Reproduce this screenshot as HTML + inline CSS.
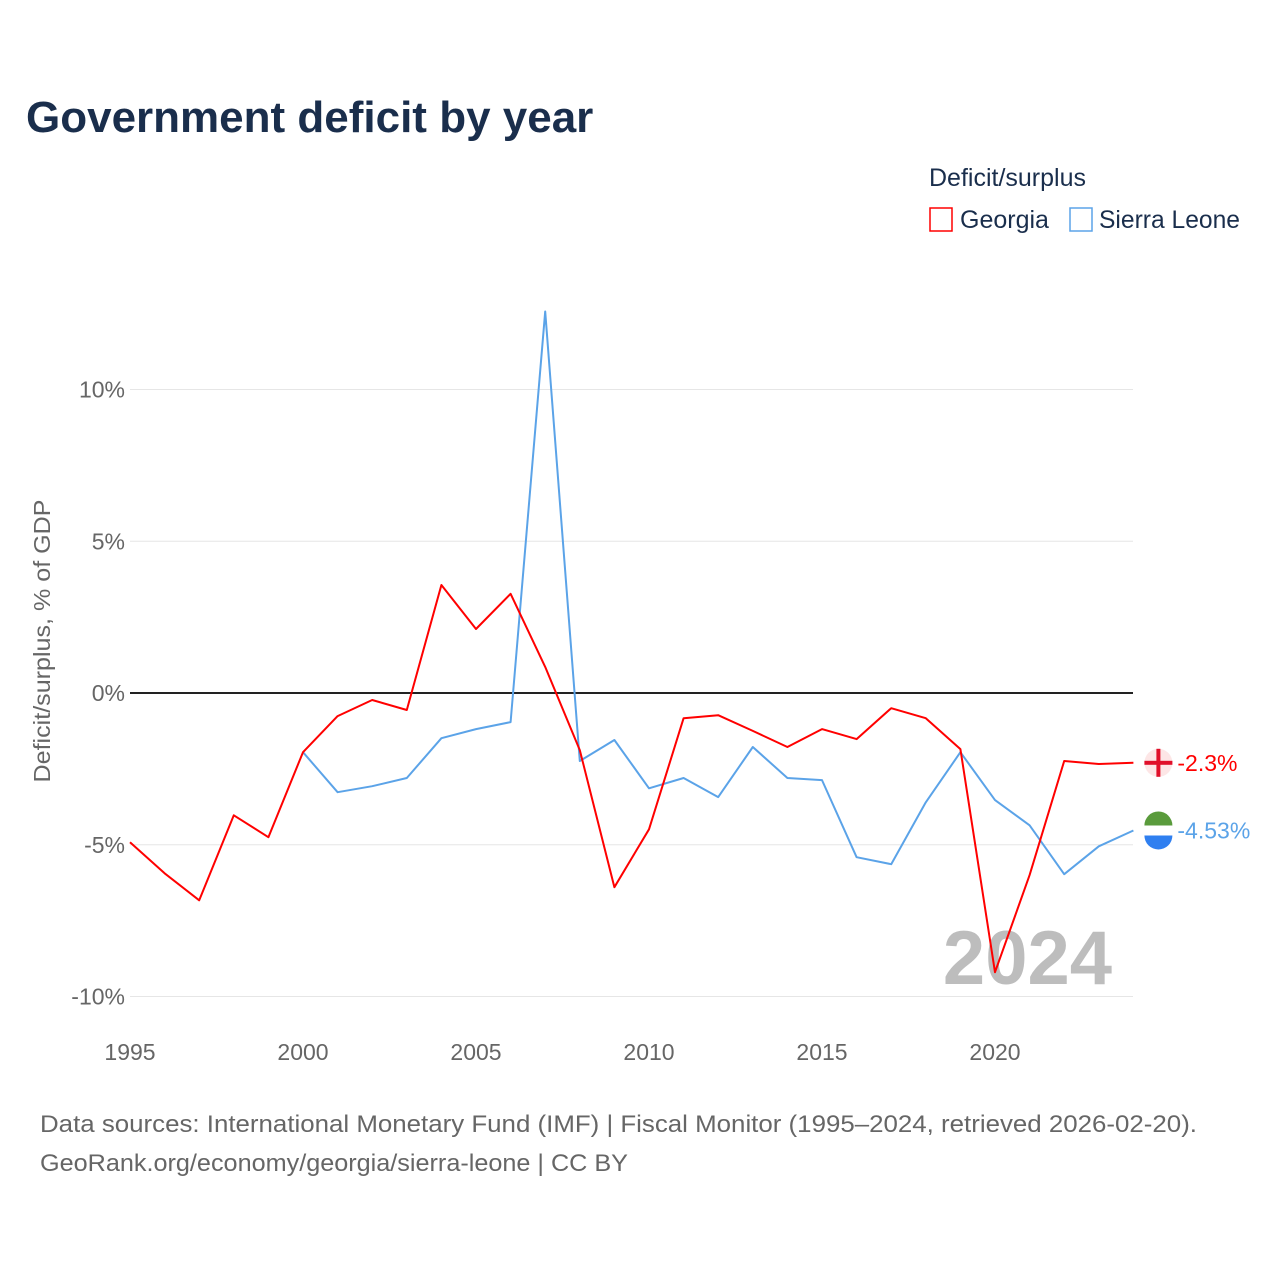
<!DOCTYPE html>
<html><head><meta charset="utf-8"><style>
body{margin:0;background:#fff;font-family:"Liberation Sans",sans-serif;}
svg text{font-family:"Liberation Sans",sans-serif;}
</style></head><body>
<svg width="1280" height="1280" viewBox="0 0 1280 1280" id="chart">
<rect width="1280" height="1280" fill="#fff"/>
<text x="26" y="132" font-size="44" font-weight="bold" fill="#1a2e4c">Government deficit by year</text>
<text x="929" y="186" font-size="25" fill="#1a2e4c">Deficit/surplus</text>
<g><rect x="930" y="208" width="22" height="23" fill="none" stroke="#f00" stroke-width="1.5"/><text x="960" y="228" font-size="25" fill="#1a2e4c">Georgia</text></g>
<g><rect x="1070" y="208" width="22" height="23" fill="none" stroke="#5ba3e8" stroke-width="1.5"/><text x="1099" y="228" font-size="25" fill="#1a2e4c" textLength="141" lengthAdjust="spacingAndGlyphs">Sierra Leone</text></g>
<text transform="translate(50,641) rotate(-90)" text-anchor="middle" font-size="23" fill="#666" textLength="283" lengthAdjust="spacingAndGlyphs">Deficit/surplus, % of GDP</text>
<g id="grid"></g><g id="xt"></g>
<text x="1112" y="984" text-anchor="end" font-size="76" font-weight="bold" fill="#bdbdbd">2024</text>
<g id="lines"></g>
<text x="40" y="1132" font-size="24" fill="#666" textLength="1157" lengthAdjust="spacingAndGlyphs">Data sources: International Monetary Fund (IMF) | Fiscal Monitor (1995–2024, retrieved 2026-02-20).</text>
<text x="40" y="1171" font-size="24" fill="#666" textLength="588" lengthAdjust="spacingAndGlyphs">GeoRank.org/economy/georgia/sierra-leone | CC BY</text>
</svg>
<script>
const years=[1995,1996,1997,1998,1999,2000,2001,2002,2003,2004,2005,2006,2007,2008,2009,2010,2011,2012,2013,2014,2015,2016,2017,2018,2019,2020,2021,2022,2023,2024];
const georgia=[-4.92,-5.94,-6.83,-4.03,-4.75,-1.95,-0.76,-0.23,-0.56,3.56,2.11,3.27,0.86,-1.88,-6.4,-4.49,-0.83,-0.73,-1.25,-1.78,-1.19,-1.52,-0.5,-0.83,-1.85,-9.2,-6.0,-2.24,-2.34,-2.3];
const sierraLeone=[null,null,null,null,null,-1.95,-3.27,-3.07,-2.8,-1.49,-1.19,-0.96,12.57,-2.24,-1.55,-3.14,-2.8,-3.43,-1.78,-2.8,-2.87,-5.41,-5.64,-3.6,-1.95,-3.53,-4.36,-5.97,-5.05,-4.53];
const yTicks=[-10,-5,0,5,10];
const yTickLabels=["-10%","-5%","0%","5%","10%"];
const xTicks=[1995,2000,2005,2010,2015,2020];
const NS="http://www.w3.org/2000/svg";
const X=y=>130+(y-1995)*(1133.4-130)/29;
const Y=v=>693-v*30.35;
function mk(t,a,p){const e=document.createElementNS(NS,t);for(const k in a)e.setAttribute(k,a[k]);p.appendChild(e);return e;}
const grid=document.getElementById('grid');
yTicks.forEach((t,i)=>{
 const l=mk('line',{x1:130,x2:1133,y1:Y(t),y2:Y(t),stroke:t===0?'#222':'#e6e6e6','stroke-width':t===0?2:1},grid);
 
 
 const tx=mk('text',{x:125,y:Y(t)+8,'text-anchor':'end','font-size':23,fill:'#666'},grid);
 tx.textContent=yTickLabels[i];
 
 
});
const xt=document.getElementById('xt');
xTicks.forEach(t=>{
 const tx=mk('text',{x:X(t),y:1060,'text-anchor':'middle','font-size':23,fill:'#666'},xt);
 tx.textContent=t;
 
 
});
const lines=document.getElementById('lines');
function series(vals,color,name){
 const pts=[];vals.forEach((v,i)=>{if(v!==null)pts.push(X(years[i]).toFixed(1)+','+Y(v).toFixed(1));});
 const p=mk('polyline',{points:pts.join(' '),fill:'none',stroke:color,'stroke-width':2,'stroke-linejoin':'round'},lines);
 
 
 const last=vals[vals.length-1];
 const cx=X(2024)+25,cy=Y(last);
 const c=mk('circle',{cx:cx,cy:cy,r:14,fill:name==='georgia'?'#fde6e6':'#fff'},lines);
 
 
 if(name==='georgia'){
  mk('rect',{x:cx-14,y:cy-2,width:28,height:4,fill:'#e0102a'},lines);
  mk('rect',{x:cx-2,y:cy-14,width:4,height:28,fill:'#e0102a'},lines);
 }else{
  mk('path',{d:`M${cx-14},${cy-5} A14,14 0 0 1 ${cx+14},${cy-5} Z`,fill:'#5a9b3c'},lines);
  mk('path',{d:`M${cx-14},${cy+5} A14,14 0 0 0 ${cx+14},${cy+5} Z`,fill:'#2f7ff0'},lines);
 }
 const t=mk('text',{x:cx+19,y:cy+8,'font-size':23,fill:color},lines);
 t.textContent=(name==='georgia'?last.toFixed(1):last.toFixed(2))+'%';
 
 
}
series(sierraLeone,'#5ba3e8','sierra-leone');
series(georgia,'#f00','georgia');
</script>
</body></html>
